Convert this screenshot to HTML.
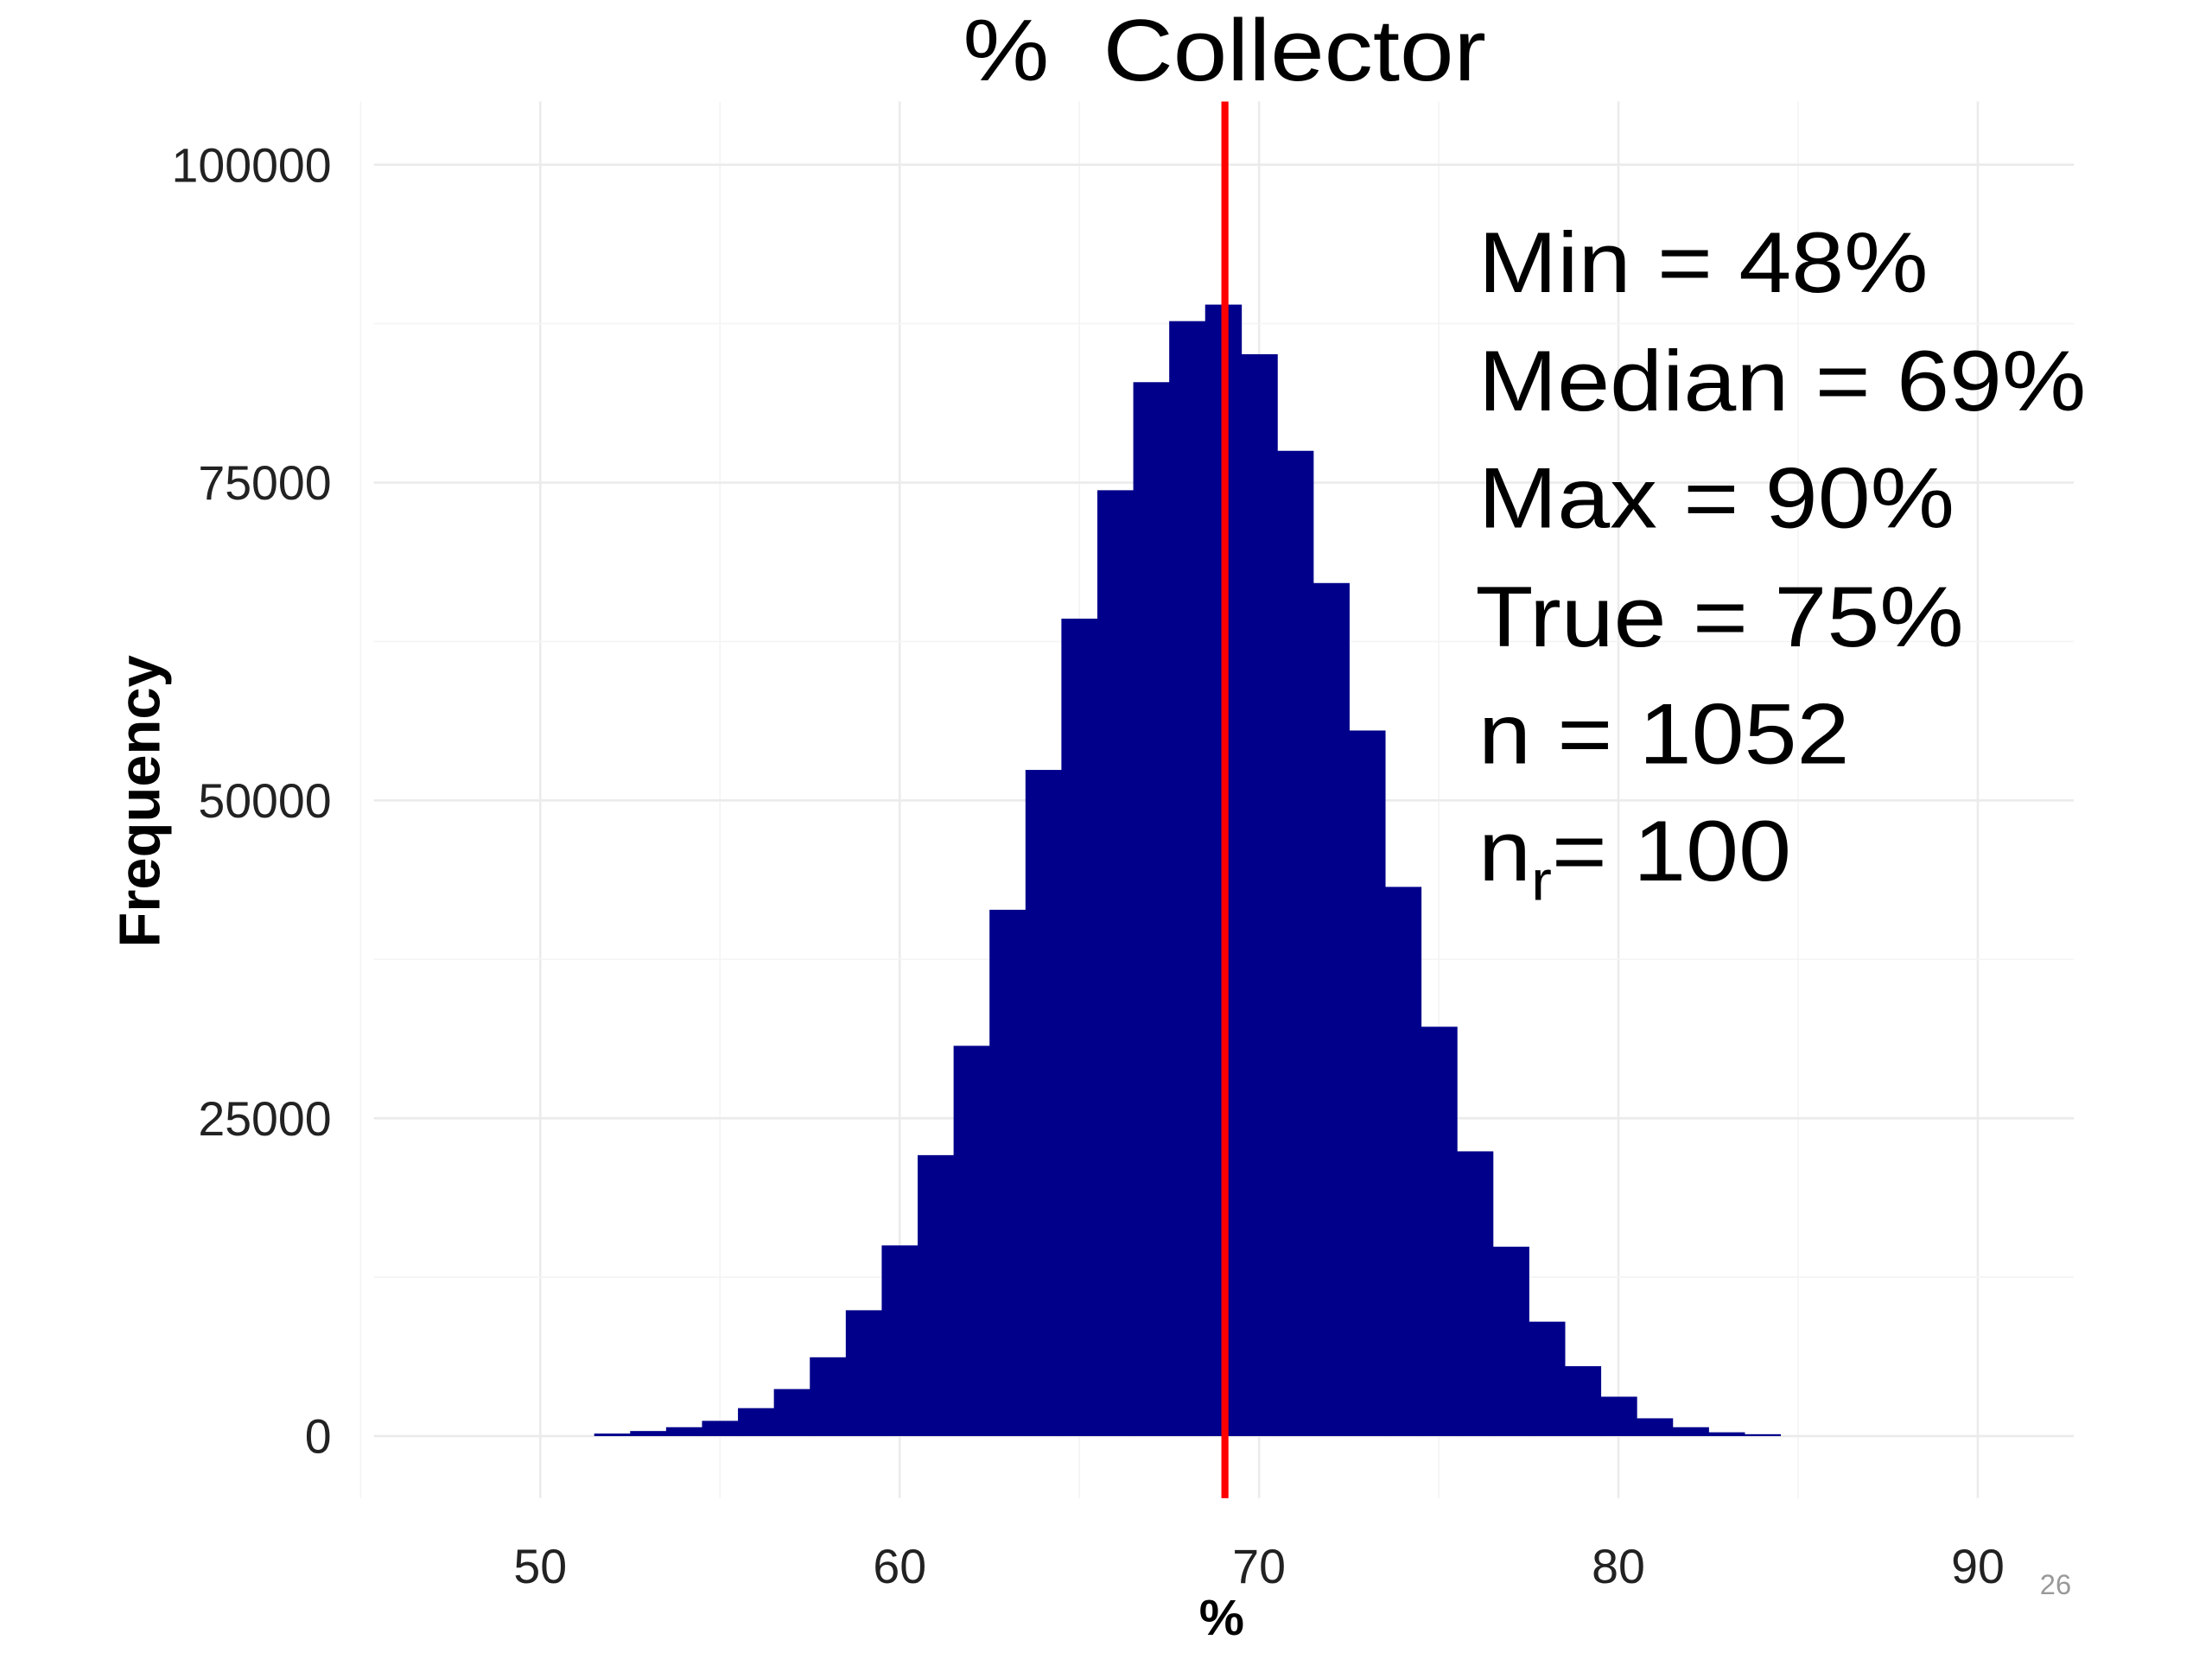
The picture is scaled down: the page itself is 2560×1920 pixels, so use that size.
<!DOCTYPE html>
<html><head><meta charset="utf-8"><style>
html,body{margin:0;padding:0;background:#fff;width:2560px;height:1920px;overflow:hidden}
svg{display:block;font-family:"Liberation Sans",Arial,sans-serif}
</style></head><body>
<svg id="chart" width="2560" height="1920" viewBox="0 0 1568 1176" xmlns="http://www.w3.org/2000/svg">
<g id="grid"></g>
<g id="bars"></g>
<g id="axes"></g>
<text transform="translate(868,57) scale(1.11,1)" x="0" y="0" font-size="62" text-anchor="middle" fill="#000">%&#160;&#160;Collector</text>
<text x="866" y="1159" font-size="36" font-weight="bold" text-anchor="middle">%</text>
<text transform="translate(113,568) rotate(-90)" font-size="41" font-weight="bold" text-anchor="middle">Frequency</text>
<g font-size="61" fill="#000" transform="translate(1048,0) scale(1.1,1)">
<text x="0" y="207">Min = 48%</text>
<text x="0" y="291">Median = 69%</text>
<text x="0" y="374">Max = 90%</text>
<text x="-2" y="458">True = 75%</text>
<text x="0" y="541">n = 1052</text>
<text x="0" y="624">n<tspan font-size="40" dy="14">r</tspan><tspan dy="-14">= 100</tspan></text>
</g>
<text x="1446" y="1130" font-size="20" fill="#999">26</text>
</svg>
<script>
const binCenters=[52,53,54,55,56,57,58,59,60,61,62,63,64,65,66,67,68,69,70,71,72,73,74,75,76,77,78,79,80,81,82,83,84];
const counts=[200,400,700,1200,2200,3700,6200,9900,15000,22100,30700,41400,52400,64300,74400,82900,87700,89000,85100,77500,67100,55500,43200,32200,22400,14900,9000,5500,3100,1400,700,300,150];
const xTicks=[50,60,70,80,90];
const yTicks=[0,25000,50000,75000,100000];
const medianValue=69.05;
const NS="http://www.w3.org/2000/svg";
const xs=v=>383+(v-50)*25.475;
const ys=v=>1018-v*0.009012;
function mk(tag,attrs,parent){const e=document.createElementNS(NS,tag);for(const k in attrs)e.setAttribute(k,attrs[k]);parent.appendChild(e);return e;}
const grid=document.getElementById('grid'),bars=document.getElementById('bars'),axes=document.getElementById('axes');
for(let v=45;v<=92.5;v+=5){const major=v%10===0;const l=mk('line',{x1:xs(v),x2:xs(v),y1:72,y2:1062,stroke:major?'#ebebeb':'#f4f4f4','stroke-width':major?1.6:1},grid);

}
for(let v=-12500;v<=112500;v+=12500){const y=ys(v);if(y<72||y>1062)continue;const major=v%25000===0;const l=mk('line',{x1:265,x2:1470,y1:y,y2:y,stroke:major?'#ebebeb':'#f4f4f4','stroke-width':major?1.6:1},grid);

}
binCenters.forEach((c,i)=>{const x0=xs(c-0.5),x1=xs(c+0.5),y=ys(counts[i]);const r=mk('rect',{x:x0,y:y,width:x1-x0+0.5,height:ys(0)-y,fill:'#00008b'},bars);

});
const ml=mk('line',{x1:xs(medianValue),x2:xs(medianValue),y1:72,y2:1062,stroke:'#ff0000','stroke-width':5},axes);


xTicks.forEach(v=>{const t=mk('text',{x:xs(v),y:1122,'font-size':34,'text-anchor':'middle',fill:'#222'},axes);t.textContent=v;

});
yTicks.forEach(v=>{const t=mk('text',{x:235,y:ys(v)+12,'font-size':34,'text-anchor':'end',fill:'#222'},axes);t.textContent=v;

});
</script>
</body></html>
